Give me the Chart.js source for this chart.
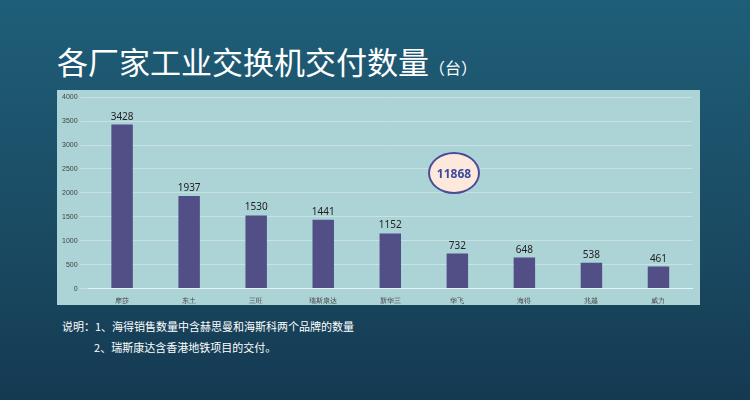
<!DOCTYPE html>
<html><head><meta charset="utf-8">
<script src="https://cdn.jsdelivr.net/npm/chart.js@4/dist/chart.umd.min.js"></script>
<style>
body{margin:0;width:750px;height:400px;overflow:hidden;background:linear-gradient(180deg,#1f5e78 0%,#1a4a62 60%,#143a52 100%);font-family:"Noto Sans CJK SC",sans-serif;position:relative}
#title{position:absolute;left:57px;top:38px;color:#fff;font-size:31px}
#title small{font-size:16px}
#panel{position:absolute;left:57px;top:90px;width:643px;height:215px;background:#acd3d6}
#note{position:absolute;left:62px;top:316px;color:#fff;font-size:11px;line-height:21px}
#bubble{position:absolute;left:428px;top:152px;width:48px;height:38px;border-radius:50%;background:#fde8dc;border:2px solid #4b4c96;color:#3a4aa0;font:bold 12px "Noto Sans",sans-serif;display:flex;align-items:center;justify-content:center}
</style></head><body>
<div id="title">各厂家工业交换机交付数量<small>（台）</small></div>
<div id="panel"><canvas id="c"></canvas></div>
<div id="bubble">11868</div>
<div id="note">说明：1、海得销售数量中含赫思曼和海斯科两个品牌的数量<br>&nbsp;&nbsp;&nbsp;&nbsp;&nbsp;&nbsp;&nbsp;&nbsp;&nbsp;&nbsp;&nbsp;&nbsp;&nbsp;2、瑞斯康达含香港地铁项目的交付。</div>
<script>
const categories = ['摩莎','东土','三旺','瑞斯康达','新华三','华飞','海得','兆越','威力'];
const values = [3428,1937,1530,1441,1152,732,648,538,461];

const labelPlugin = {
  id: 'labels',
  afterDatasetsDraw(chart) {
    const ctx = chart.ctx;
    ctx.save();
    ctx.fillStyle = '#222';
    ctx.font = '10px "Noto Sans"';
    ctx.textAlign = 'center';
    chart.getDatasetMeta(0).data.forEach((bar, i) => {
      ctx.fillText(values[i], bar.x, bar.y - 5);
    });
    ctx.restore();
  }
};

new Chart(document.getElementById('c'), {
  type: 'bar',
  data: { labels: categories, datasets: [{ data: values, backgroundColor: '#524f87', barPercentage: 0.32, categoryPercentage: 1 }] },
  options: {
    responsive: true, maintainAspectRatio: false, animation: false,
    layout: { padding: { top: 4, right: 8, bottom: 0, left: 2 } },
    plugins: { legend: { display: false }, tooltip: { enabled: false } },
    scales: {
      x: { grid: { display: false }, border: { color: '#e8f2f2' }, ticks: { color: '#444', font: { size: 7 }, padding: 0 } },
      y: { min: 0, max: 4000, ticks: { stepSize: 500, color: '#444', font: { size: 7 }, callback: v => v }, grid: { color: '#c8e2e4' }, border: { display: false } }
    }
  },
  plugins: [labelPlugin]
});
</script>
</body></html>
